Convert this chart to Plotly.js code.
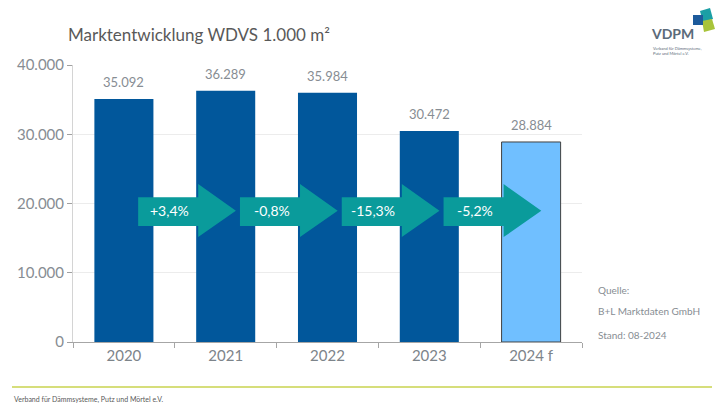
<!DOCTYPE html>
<html>
<head>
<meta charset="utf-8">
<script src="https://cdn.plot.ly/plotly-3.0.1.min.js"></script>
<style>
  html, body { margin: 0; padding: 0; background: #ffffff; }
  #chart { width: 720px; height: 405px; }
</style>
</head>
<body>
<div id="chart"></div>
<script>
// data
var years = ["2020", "2021", "2022", "2023", "2024 f"];
var volumes = [35092, 36289, 35984, 30472, 28884];
var changes = ["+3,4%", "-0,8%", "-15,3%", "-5,2%"];
var barColors = ["#01579b", "#01579b", "#01579b", "#01579b", "#70bfff"];
var yTicks = [0, 10000, 20000, 30000, 40000];

var FONT = "Lato, 'Open Sans', sans-serif";
var GREY = "#878d93";

// bars sit on a plain numeric axis, one slot per year
var slots = years.map(function(y, i) { return i; });
var bounds = [];
for (var b = 0; b <= years.length; b++) bounds.push(b - 0.5);

var shapes = [];
var annotations = [];

// value labels above the bars
for (var i = 0; i < years.length; i++) {
	annotations.push({
		x: slots[i], y: volumes[i], xref: "x", yref: "y",
		text: volumes[i].toLocaleString("de-DE"),
		showarrow: false, yanchor: "bottom", yshift: 7,
		font: {family: FONT, size: 13, color: GREY}
	});
}

// teal arrows between the bars
var bodyLo = 16750, bodyHi = 20900, headLo = 15150, headHi = 22800, mid = 18950;
for (var k = 0; k < changes.length; k++) {
	var x0 = slots[k] + 0.14, xh = slots[k] + 0.73, xt = slots[k] + 1.1;
	shapes.push({
		type: "path", xref: "x", yref: "y", layer: "above",
		path: "M" + x0 + "," + bodyLo + " L" + xh + "," + bodyLo + " L" + xh + "," + headLo +
			" L" + xt + "," + mid + " L" + xh + "," + headHi + " L" + xh + "," + bodyHi +
			" L" + x0 + "," + bodyHi + " Z",
		fillcolor: "#0a9b9b", line: {width: 0}
	});
	annotations.push({
		x: slots[k] + 0.45, y: mid, xref: "x", yref: "y",
		text: changes[k], showarrow: false,
		font: {family: FONT, size: 14, color: "#ffffff"}
	});
}

// footer line
shapes.push({
	type: "line", xref: "paper", yref: "paper",
	x0: -61 / 509, x1: 639 / 509, y0: -45 / 277, y1: -45 / 277,
	line: {color: "#c9d34f", width: 1.5}
});

// logo squares (teal, green, then the blue one in front)
shapes.push({type: "path", xref: "paper", yref: "paper", layer: "above",
	path: "M 1.2318,1.1949 L 1.2515,1.2058 L 1.2574,1.1661 L 1.2377,1.1552 Z",
	fillcolor: "#1b9fa5", line: {width: 0}});
shapes.push({type: "path", xref: "paper", yref: "paper", layer: "above",
	path: "M 1.2358,1.1588 L 1.2554,1.1661 L 1.2613,1.1300 L 1.2397,1.1191 Z",
	fillcolor: "#a8c43a", line: {width: 0}});
shapes.push({type: "rect", xref: "paper", yref: "paper", layer: "above",
	x0: 1.2181, x1: 1.2377, y0: 1.1444, y1: 1.1805,
	fillcolor: "#1d5a9b", line: {width: 0}});

// texts around the plot
annotations.push(
	{xref: "paper", yref: "paper", x: 1.028, y: 0.186, xanchor: "left", yanchor: "middle",
		text: "Quelle:", showarrow: false, font: {family: FONT, size: 10, color: GREY}},
	{xref: "paper", yref: "paper", x: 1.028, y: 0.112, xanchor: "left", yanchor: "middle",
		text: "B+L Marktdaten GmbH", showarrow: false, font: {family: FONT, size: 10, color: GREY}},
	{xref: "paper", yref: "paper", x: 1.028, y: 0.025, xanchor: "left", yanchor: "middle",
		text: "Stand: 08-2024", showarrow: false, font: {family: FONT, size: 10, color: GREY}},
	{xref: "paper", yref: "paper", x: -61 / 509, y: -57 / 277, xanchor: "left", yanchor: "middle",
		text: "Verband für Dämmsysteme, Putz und Mörtel e.V.", showarrow: false,
		font: {family: FONT, size: 7, color: "#595959"}},
	{xref: "paper", yref: "paper", x: 1.131, y: 1.1155, xanchor: "left", yanchor: "middle",
		text: "<b>VDPM</b>", showarrow: false, font: {family: FONT, size: 14, color: "#5b6b7a"}},
	{xref: "paper", yref: "paper", x: 1.135, y: 1.075, xanchor: "left", yanchor: "top",
		text: "Verband für Dämmsysteme,<br>Putz und Mörtel e.V.", showarrow: false, align: "left",
		font: {family: FONT, size: 4, color: "#5b6b7a"}}
);

var trace = {
	type: "bar",
	x: slots,
	y: volumes,
	width: 0.58,
	marker: {
		color: barColors,
		line: {color: "#404040", width: [0, 0, 0, 0, 1]}
	},
	hoverinfo: "skip"
};

var layout = {
	width: 720,
	height: 405,
	paper_bgcolor: "#ffffff",
	plot_bgcolor: "#ffffff",
	separators: ",.",
	showlegend: false,
	margin: {l: 73, r: 138, t: 65, b: 63},
	title: {
		text: "Marktentwicklung WDVS 1.000 m²",
		xref: "container", x: 68 / 720, xanchor: "left",
		yref: "container", y: 1 - 35 / 405, yanchor: "middle",
		font: {family: FONT, size: 17, color: "#595959"}
	},
	xaxis: {
		range: [-0.5, years.length - 0.5],
		tickvals: slots,
		ticktext: years,
		ticks: "",
		minor: {tickvals: bounds, ticks: "outside", ticklen: 5, tickcolor: "#a6a6a6", showgrid: false},
		showline: true, linecolor: "#a6a6a6", linewidth: 1,
		tickfont: {family: FONT, size: 15, color: "#7d848a"},
		showgrid: false, zeroline: false
	},
	yaxis: {
		range: [0, 40000],
		tickvals: yTicks,
		tickformat: ",d",
		showline: true, linecolor: "#d4d4d4", linewidth: 1,
		ticks: "outside", ticklen: 5, tickcolor: "#a0a0a0",
		tickfont: {family: FONT, size: 15, color: GREY},
		gridcolor: "#ececec",
		zeroline: false
	},
	shapes: shapes,
	annotations: annotations
};

Plotly.newPlot("chart", [trace], layout, {displayModeBar: false, staticPlot: true});
</script>
</body>
</html>
